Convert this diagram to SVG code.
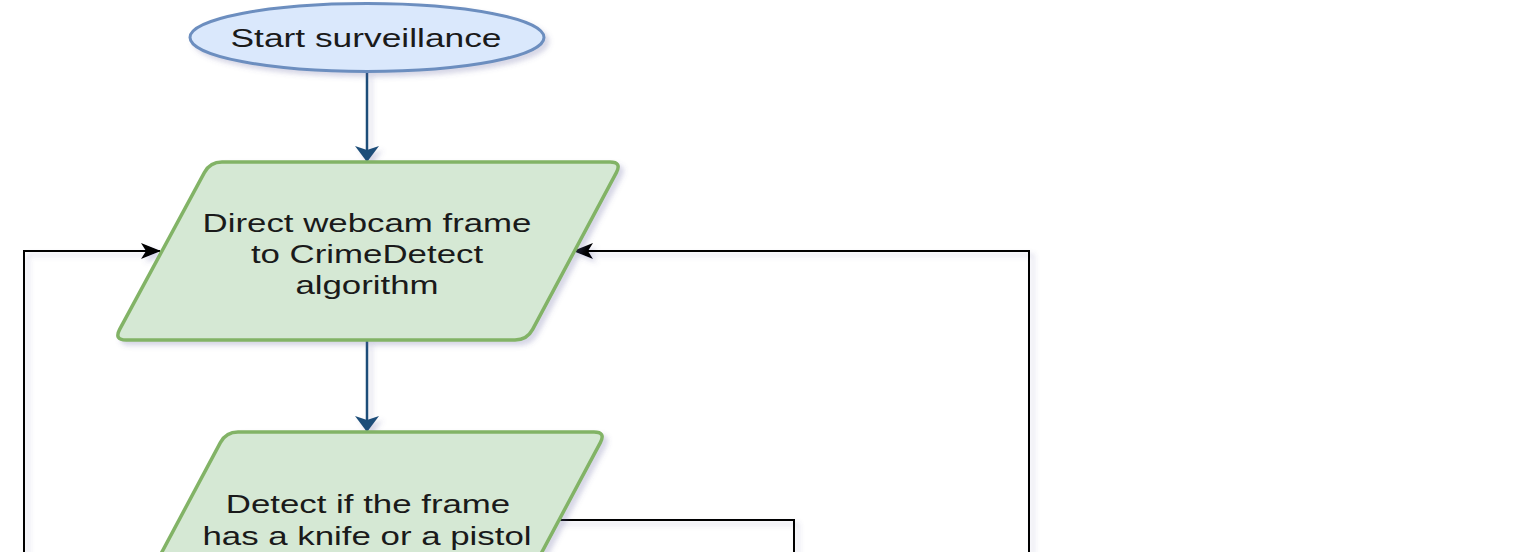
<svg xmlns="http://www.w3.org/2000/svg" width="1514" height="552" viewBox="0 0 1514 552">
  <defs>
    <filter id="shadow" x="-10%" y="-10%" width="130%" height="130%">
      <feDropShadow dx="4" dy="4" stdDeviation="2.5" flood-color="#5a5a9a" flood-opacity="0.25"/>
    </filter>
    <marker id="arrH" viewBox="0 0 20 16" refX="19" refY="8" markerWidth="20" markerHeight="16" markerUnits="userSpaceOnUse" orient="auto">
      <path d="M0,0 L20,8 L0,16 L5,8 Z" fill="#000"/>
    </marker>
    <marker id="arrV" viewBox="0 0 16 24" refX="15" refY="12" markerWidth="16" markerHeight="24" markerUnits="userSpaceOnUse" orient="auto">
      <path d="M0,0 L16,12 L0,24 L4,12 Z" fill="#1f4e79"/>
    </marker>
  </defs>
  <style>
    .lbl { font-family: "Liberation Sans", Arial, sans-serif; font-size: 26px; fill: #1a1a1a; text-anchor: middle; }
    .blue { fill: none; stroke: #1f4e79; stroke-width: 2.5; marker-end: url(#arrV); }
    .blk { fill: none; stroke: #000; stroke-width: 2; }
    .blkA { marker-end: url(#arrH); }
    .term { fill: #dae8fc; stroke: #6c8ebf; stroke-width: 3; }
    .io { fill: #d5e8d4; stroke: #82b366; stroke-width: 3.5; }
  </style>
  <rect width="1514" height="552" fill="#ffffff"/>

  <g id="connectors" filter="url(#shadow)">
    <path class="blue" d="M367,72 V161"/>
    <path class="blue" d="M367,341 V431"/>
    <path class="blk blkA" d="M24,560 V251 H160"/>
    <path class="blk blkA" d="M1029,560 V251 H574"/>
    <path class="blk" d="M558,520 H794 V560"/>
  </g>

  <g id="start">
    <ellipse class="term" cx="367" cy="37.5" rx="177" ry="34" filter="url(#shadow)"/>
    <text class="lbl" transform="translate(366,47) scale(1.36,1)">Start surveillance</text>
  </g>

  <g id="direct">
    <path class="io" filter="url(#shadow)" d="M222,162 L610,162 Q622,162 616.35,172.58 L532.65,329.42 Q527,340 515,340 L126,340 Q114,340 119.65,329.42 L204.35,172.58 Q210,162 222,162 Z"/>
    <text class="lbl" transform="translate(367,232) scale(1.34,1)">Direct webcam frame</text>
    <text class="lbl" transform="translate(367,263) scale(1.34,1)">to CrimeDetect</text>
    <text class="lbl" transform="translate(367,294) scale(1.34,1)">algorithm</text>
  </g>

  <g id="detect">
    <path class="io" filter="url(#shadow)" d="M238,432 L594,432 Q606,432 600.35,442.58 L516.65,599.42 Q511,610 499,610 L143,610 Q131,610 136.65,599.42 L220.35,442.58 Q226,432 238,432 Z"/>
    <text class="lbl" transform="translate(368,513) scale(1.34,1)">Detect if the frame</text>
    <text class="lbl" transform="translate(367,545) scale(1.34,1)">has a knife or a pistol</text>
  </g>
</svg>
